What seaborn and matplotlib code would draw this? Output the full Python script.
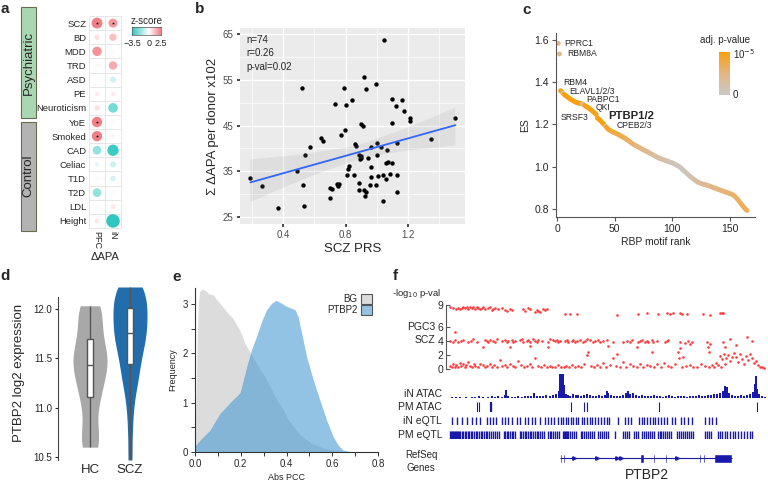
# -*- coding: utf-8 -*-
import numpy as np
import pandas as pd
import matplotlib
matplotlib.use("Agg")
from matplotlib import pyplot as plt
from matplotlib.colors import LinearSegmentedColormap, Normalize
from matplotlib.patches import Patch, Rectangle
import seaborn as sns

'''a. trait enrichment z-scores'''
traits = ["SCZ", "BD", "MDD", "TRD", "ASD", "PE", "Neuroticism", "YoE", "Smoked",
          "CAD", "Celiac", "T1D", "T2D", "LDL", "Height"]
z_pfc = [2.2, 0.45, 1.6, 0.15, 0.0, 0.3, 0.45, 2.0, 2.0, -1.35, -0.3, 0.1, -1.35, -0.1, 0.35]
z_in = [1.5, 0.95, 0.1, 1.25, -0.6, 0.3, -1.7, 0.1, 0.2, -2.4, -0.6, -0.5, 0.1, 0.35, -3.5]
sig_pfc = ["SCZ", "YoE", "Smoked"]
sig_in = ["SCZ"]

'''b. SCZ PRS vs sum dAPA'''
prs = [0.187, 0.263, 0.366, 0.518, 0.537, 0.488, 0.527, 0.535, 0.574, 0.645,
       0.658, 0.699, 0.703, 0.710, 0.735, 0.789, 0.768, 0.798, 0.806, 0.841,
       0.745, 0.752, 0.758, 0.811, 0.815, 0.824, 0.854, 0.864, 0.870, 0.886,
       0.892, 0.897, 0.902, 0.886, 0.890, 0.901, 0.915, 0.918, 0.935, 0.920,
       0.928, 0.932, 0.955, 0.961, 0.963, 0.966, 0.994, 0.994, 1.000, 1.005,
       1.010, 1.047, 1.070, 1.097, 1.166, 1.123, 1.097, 1.176, 1.215, 1.215,
       1.129, 1.348, 1.508, 1.060, 1.075, 1.100, 1.040, 1.085, 1.129, 1.062,
       1.129, 1.043, 1.030, 0.945]
apa = [33.6, 31.8, 27.0, 53.3, 38.6, 35.1, 32.0, 27.4, 40.4, 42.3,
       41.7, 31.3, 29.2, 31.2, 49.7, 53.3, 42.9, 44.0, 49.4, 50.6,
       32.3, 31.8, 32.2, 34.2, 35.5, 36.2, 34.2, 41.0, 40.5, 38.5,
       37.6, 38.3, 37.9, 32.4, 30.9, 45.3, 45.0, 55.7, 52.9, 31.0,
       29.6, 30.5, 32.0, 33.8, 36.0, 40.4, 54.1, 32.0, 41.1, 38.5,
       34.0, 63.7, 39.6, 50.8, 50.6, 49.3, 45.5, 48.2, 46.6, 46.1,
       41.2, 42.0, 46.6, 36.8, 37.0, 36.8, 34.2, 34.5, 34.2, 33.3,
       30.5, 28.5, 40.4, 38.0]

'''c. RBP motif enrichment, ranked'''
es = [1.584, 1.534, 1.360, 1.355, 1.348, 1.342, 1.338, 1.334, 1.330, 1.326, 1.322, 1.318, 1.315, 1.312, 1.309,
      1.306, 1.304, 1.302, 1.301, 1.300, 1.299, 1.297, 1.293, 1.290, 1.286, 1.283, 1.279, 1.275, 1.271, 1.267,
      1.262, 1.257, 1.252, 1.247, 1.230, 1.226, 1.222, 1.216, 1.210, 1.204, 1.198, 1.192, 1.186, 1.180, 1.175,
      1.172, 1.169, 1.166, 1.163, 1.161, 1.158, 1.156, 1.153, 1.150, 1.147, 1.144, 1.141, 1.138, 1.135, 1.131,
      1.127, 1.123, 1.119, 1.115, 1.111, 1.107, 1.104, 1.101, 1.098, 1.095, 1.092, 1.089, 1.086, 1.083, 1.080,
      1.077, 1.074, 1.072, 1.069, 1.066, 1.063, 1.060, 1.057, 1.054, 1.051, 1.048, 1.045, 1.042, 1.040, 1.038,
      1.036, 1.034, 1.032, 1.030, 1.028, 1.026, 1.024, 1.022, 1.020, 1.018, 1.016, 1.013, 1.010, 1.007, 1.004,
      1.001, 0.997, 0.992, 0.987, 0.982, 0.977, 0.972, 0.967, 0.962, 0.957, 0.952, 0.948, 0.944, 0.940, 0.936,
      0.932, 0.928, 0.925, 0.923, 0.921, 0.919, 0.917, 0.916, 0.915, 0.913, 0.911, 0.909, 0.907, 0.905, 0.903,
      0.901, 0.899, 0.897, 0.895, 0.893, 0.891, 0.889, 0.887, 0.885, 0.883, 0.881, 0.879, 0.877, 0.875, 0.873,
      0.871, 0.869, 0.866, 0.862, 0.857, 0.851, 0.845, 0.838, 0.831, 0.824, 0.817, 0.810, 0.804, 0.798, 0.793]
# scaled -log10 adj. p-value (0 = n.s., 1 = 1e-5)
padj_score = [0.5, 0.5, 1, 1, 0.2, 1, 1, 1, 1, 1, 1, 1, 1, 1, 1,
              1, 1, 1, 1, 1, 1, 0.3, 0.3, 1, 1, 1, 1, 1, 1, 1,
              1, 1, 1, 0.9, 1, 1, 1, 1, 1, 1, 1, 0.3, 0.95, 0.9, 0.9,
              0.85, 0.85, 0.8, 0.8, 0.8, 0.75, 0.75, 0.75, 0.8, 0.75, 0.75, 0.7, 0.75, 0.7, 0.7,
              0.65, 0.65, 0.6, 0.65, 0.6, 0.6, 0.55, 0.55, 0.5, 0.55, 0.5, 0.5, 0.45, 0.5, 0.45,
              0.45, 0.4, 0.45, 0.4, 0.4, 0.35, 0.4, 0.35, 0.35, 0.3, 0.3, 0.35, 0.3, 0.25, 0.3,
              0.25, 0.2, 0.25, 0.2, 0.2, 0.15, 0.2, 0.15, 0.15, 0.1, 0.15, 0.1, 0.1, 0.1, 0.1,
              0.05, 0.1, 0.05, 0.1, 0.05, 0.1, 0.1, 0.15, 0.1, 0.15, 0.15, 0.2, 0.15, 0.2, 0.25,
              0.25, 0.3, 0.3, 0.35, 0.3, 0.35, 0.4, 0.35, 0.4, 0.4, 0.45, 0.4, 0.45, 0.45, 0.45,
              0.5, 0.45, 0.5, 0.5, 0.5, 0.5, 0.55, 0.5, 0.55, 0.55, 0.5, 0.55, 0.55, 0.6, 0.55,
              0.6, 0.55, 0.6, 0.6, 0.6, 0.6, 0.65, 0.6, 0.65, 0.65, 0.65, 0.7, 0.65, 0.7, 0.7]
rbp_names = ["PPRC1", "RBM8A", "RBM4", "ELAVL1/2/3", "PABPC1", "QKI", "PTBP1/2", "SRSF3", "CPEB2/3"]
rbp_lab_x = [6, 8.4, 5, 10.7, 25.7, 33.8, 44.5, 3.2, 51.8]
rbp_lab_y = [1.581, 1.534, 1.401, 1.356, 1.318, 1.28, 1.241, 1.233, 1.193]

'''d. PTBP2 expression'''
hc_expr = [10.60, 10.62, 10.66, 10.75, 10.92, 11.05, 11.12, 11.18, 11.25, 11.32, 11.38, 11.42,
           11.45, 11.48, 11.52, 11.58, 11.63, 11.68, 11.75, 11.85, 11.95, 11.99, 12.01, 12.03]
scz_expr = [10.47, 10.80, 11.05, 11.20, 11.30, 11.36, 11.42, 11.50, 11.58, 11.64,
            11.68, 11.70, 11.72, 11.78, 11.84, 11.88, 11.92, 11.95, 11.98, 12.02,
            12.08, 12.14, 12.18, 12.20, 12.21, 12.22]

'''e. |PCC| density'''
bg_x = [0.0, 0.005, 0.01, 0.015, 0.02, 0.033, 0.05, 0.062, 0.08, 0.092, 0.12, 0.146, 0.167, 0.197, 0.218,
        0.247, 0.284, 0.306, 0.335, 0.357, 0.386, 0.408, 0.437, 0.459, 0.509, 0.56, 0.604, 0.65, 0.7]
bg_y = [0.3, 1.2, 2.4, 3.0, 3.25, 3.3, 3.25, 3.2, 3.18, 3.1, 2.95, 2.8, 2.7, 2.45, 2.2,
        1.97, 1.67, 1.53, 1.26, 1.06, 0.86, 0.65, 0.48, 0.35, 0.18, 0.08, 0.04, 0.01, 0.0]
ptbp_x = [0.0, 0.03, 0.065, 0.109, 0.153, 0.197, 0.226, 0.247, 0.269, 0.291, 0.313, 0.335, 0.354, 0.371,
          0.4, 0.437, 0.451, 0.466, 0.488, 0.517, 0.546, 0.575, 0.604, 0.626, 0.648, 0.677, 0.7]
ptbp_y = [0.12, 0.28, 0.44, 0.78, 1.0, 1.2, 1.73, 2.07, 2.34, 2.64, 2.88, 3.01, 3.07, 3.03,
          2.95, 2.88, 2.74, 2.41, 1.93, 1.46, 1.05, 0.65, 0.31, 0.14, 0.04, 0.01, 0.0]

'''f. PTBP2 locus (positions in kb)'''
top_x = [0, 3, 6, 8, 10, 12, 13, 15, 17, 18, 20, 22, 23, 25, 27, 28, 30, 32, 33, 35,
         38, 40, 42, 43, 45, 48, 52, 55, 57, 60, 62, 73, 75, 78, 80, 85, 87, 88, 90, 93,
         95, 97, 115, 120, 127, 167, 188, 197, 208, 217, 220, 223, 230, 232, 237, 253, 260, 270, 272, 273]
top_y = [8.7, 8.6, 8.5, 8.6, 8.4, 8.6, 8.7, 8.6, 8.7, 8.5, 8.7, 8.6, 8.7, 8.5, 8.7, 8.6, 8.4, 8.6, 8.7, 8.5,
         8.6, 8.7, 8.3, 8.5, 8.6, 8.4, 8.6, 8.3, 8.2, 8.5, 8.3, 8.4, 8.2, 8.6, 8.5, 8.1, 8.3, 8.2, 8.0, 8.5,
         8.3, 8.4, 7.8, 7.8, 7.8, 7.6, 7.8, 7.9, 7.7, 7.9, 7.8, 7.9, 7.9, 7.8, 7.7, 7.8, 7.6, 7.9, 7.9, 7.9]
mid_x = [0, 3, 5, 8, 11, 13, 18, 21, 23, 27,
         35, 37, 38, 40, 43, 45, 47, 52, 55, 57,
         58, 62, 63, 65, 70, 72, 73, 77, 78, 80,
         83, 85, 87, 88, 92, 98, 100, 103, 105, 107,
         108, 110, 115, 117, 118, 122, 123, 125, 127, 130,
         133, 135, 137, 140, 143, 145, 148, 150, 153, 157,
         163, 173, 177, 180, 182, 188, 190, 192, 195, 197,
         198, 202, 203, 207, 215, 217, 218, 230, 235, 238,
         240, 242, 257, 260, 273, 280, 297, 302]
mid_y = [4.0, 3.9, 4.1, 3.8, 4.0, 4.1, 3.9, 4.0, 4.2, 3.9,
         4.1, 4.0, 3.8, 4.1, 4.0, 3.9, 4.2, 4.0, 4.1, 3.9,
         4.0, 4.1, 3.8, 4.0, 4.1, 4.2, 3.9, 4.0, 4.1, 3.9,
         4.2, 4.0, 3.9, 4.1, 4.0, 3.9, 4.2, 4.1, 4.0, 4.1,
         3.9, 4.0, 4.0, 4.1, 3.9, 4.0, 4.1, 3.8, 4.0, 4.1,
         3.9, 4.0, 4.2, 4.1, 3.9, 4.0, 4.1, 3.8, 4.0, 4.1,
         3.9, 3.8, 4.0, 3.9, 4.1, 3.8, 4.0, 4.1, 3.9, 4.0,
         3.8, 4.1, 3.9, 4.0, 3.8, 4.0, 4.1, 3.9, 3.7, 4.0,
         3.6, 3.8, 3.9, 3.6, 3.8, 4.3, 4.5, 4.0]
low_x = [5, 33, 60, 80, 98, 138, 158, 167, 187, 202, 228, 230, 233, 258, 259, 275, 286]
low_y = [5.2, 3.2, 3.1, 3.3, 3.2, 2.5, 3.3, 2.1, 3.2, 2.4, 2.5, 3.0, 1.8, 3.2, 2.5, 3.1, 3.4]
bot_x = [0, 2, 3, 5, 6, 8, 10, 11, 13, 15,
         16, 18, 20, 22, 24, 25, 28, 30, 33, 35,
         37, 40, 42, 44, 47, 50, 52, 55, 57, 60,
         63, 65, 68, 71, 74, 77, 80, 82, 85, 88,
         91, 94, 97, 100, 102, 105, 108, 111, 114, 116,
         119, 122, 125, 128, 131, 134, 137, 141, 144, 147,
         150, 153, 156, 160, 163, 166, 170, 173, 176, 180,
         183, 187, 190, 193, 197, 200, 204, 207, 211, 214,
         218, 221, 225, 229, 232, 236, 240, 243, 247, 251,
         255, 259, 262]
bot_y = [0.5, 0.3, 0.8, 0.4, 0.6, 0.3, 0.9, 0.5, 0.7, 0.4,
         0.6, 1.1, 0.5, 0.3, 0.7, 0.5, 0.4, 0.8, 0.6, 0.3,
         0.5, 0.7, 0.4, 0.6, 0.3, 1.3, 0.5, 0.6, 0.4, 0.8,
         0.5, 0.3, 1.2, 0.6, 0.4, 0.5, 0.7, 0.3, 1.6, 0.5,
         0.4, 0.6, 0.3, 0.5, 0.4, 0.3, 0.6, 0.4, 0.3, 0.5,
         0.4, 0.6, 0.3, 0.5, 0.4, 0.7, 2.0, 0.5, 0.3, 0.6,
         0.4, 0.9, 0.3, 0.6, 1.6, 0.5, 0.4, 1.0, 0.3, 0.7,
         0.5, 0.4, 0.8, 0.3, 0.6, 0.5, 0.4, 0.7, 0.3, 0.9,
         0.5, 0.4, 0.7, 1.6, 0.3, 0.5, 0.6, 0.4, 0.3, 0.8,
         0.5, 0.4, 0.6]
tail_x = [264, 266, 268, 270, 271, 272, 274, 275, 276, 278, 280, 282, 284, 286,
          288, 290, 292, 294, 296, 298, 300, 302, 304, 306, 308, 310, 312, 314]
tail_y = [0.4, 0.9, 0.6, 1.9, 0.3, 1.5, 2.2, 0.7, 1.6, 2.0, 1.2, 1.8, 2.3, 1.7,
          1.0, 2.1, 1.5, 0.8, 1.9, 1.3, 2.1, 1.6, 0.9, 1.2, 0.6, 0.4, 0.3, 0.2]

atac_x = [2, 6, 10, 16, 22, 25, 29, 33, 38, 42,
          45, 48, 52, 55, 56, 58, 62, 65, 68, 72,
          75, 78, 81, 84, 87, 90, 93, 96, 100, 103,
          106, 109, 110, 111, 112, 113, 114, 116, 118, 120,
          123, 126, 128, 131, 134, 137, 140, 143, 146, 149,
          152, 155, 157, 158, 161, 164, 167, 170, 173, 176,
          178, 180, 183, 186, 189, 192, 195, 198, 201, 204,
          207, 210, 213, 216, 219, 222, 225, 228, 231, 234,
          237, 240, 243, 246, 249, 252, 255, 258, 261, 264,
          267, 270, 273, 275, 277, 279, 282, 285, 288, 291,
          294, 297, 300, 303, 305, 306, 307, 309, 312, 315]
atac_h = [0.04, 0.05, 0.03, 0.06, 0.04, 0.05, 0.07, 0.04, 0.05, 0.08,
          0.05, 0.10, 0.06, 0.12, 0.32, 0.10, 0.06, 0.05, 0.08, 0.06,
          0.09, 0.07, 0.10, 0.22, 0.08, 0.10, 0.07, 0.12, 0.09, 0.14,
          0.16, 0.30, 1.00, 1.00, 1.00, 1.00, 0.55, 0.18, 0.14, 0.10,
          0.16, 0.12, 0.14, 0.10, 0.12, 0.18, 0.12, 0.08, 0.10, 0.12,
          0.09, 0.14, 0.28, 0.20, 0.12, 0.10, 0.09, 0.08, 0.12, 0.22,
          0.30, 0.18, 0.22, 0.12, 0.10, 0.14, 0.08, 0.10, 0.09, 0.12,
          0.08, 0.10, 0.06, 0.08, 0.12, 0.07, 0.06, 0.08, 0.10, 0.07,
          0.06, 0.08, 0.07, 0.10, 0.12, 0.08, 0.09, 0.12, 0.14, 0.18,
          0.16, 0.20, 0.30, 0.50, 0.45, 0.20, 0.14, 0.10, 0.08, 0.12,
          0.10, 0.14, 0.18, 0.25, 0.60, 0.95, 0.40, 0.15, 0.10, 0.06]
pm_atac = [27, 29, 41, 121, 134, 137, 209, 307]
in_eqtl = [2, 7, 12, 17, 22, 26, 30, 37, 40, 43, 46, 52, 55, 58, 62, 67, 70, 75, 78, 82,
           85, 90, 95, 98, 101, 104, 108, 111, 113, 116, 118, 121, 123, 126, 128, 132, 134, 137, 140, 142,
           145, 148, 151, 154, 157, 159, 168, 175, 178, 181, 189, 192, 194, 197, 200, 203, 205, 208, 211, 214,
           217, 222, 225, 231, 234, 238, 242, 255, 259, 262, 266]
pm_eqtl = [0, 1, 2, 3, 4, 5, 6, 7, 8, 9, 10,
           12, 13, 15, 16, 18, 19, 21, 22, 24, 26, 27, 29, 31, 32, 34, 36, 37, 39, 41, 43, 45, 47, 49,
           54, 55, 57, 58, 60, 62, 63, 65,
           70, 71, 73, 75, 76, 78, 80, 81, 83, 85, 87, 88, 90, 92, 94,
           98, 100, 101, 103, 105, 107, 109,
           113, 114, 115, 116, 117, 118, 120, 122, 124, 126,
           131, 132, 134, 136, 138, 140, 142, 144,
           148, 150, 152, 154, 156, 158, 165, 173, 175, 177, 179, 184, 186, 188,
           192, 194, 196, 198, 200, 202, 204, 208, 210, 211, 213, 215, 217, 219, 221,
           227, 229, 231, 233, 235, 237, 239, 241, 243, 255, 257, 259, 261,
           268, 270, 272, 275, 277, 280, 283, 285, 288, 291, 294, 297, 300, 302]
gene_start, gene_end = 110, 281.7
exons = [(110, 2), (113, 2), (157.7, 1.6), (160.7, 1.6), (190, 4), (203.3, 2),
         (215, 2.3), (249.3, 1.7), (252.7, 2), (264.3, 17.4)]
strand_marks = [124, 147, 167, 171, 227]


sns.set_theme(style="white")
plt.rcParams["font.family"] = ["Liberation Sans", "DejaVu Sans"]
plt.rcParams["axes.unicode_minus"] = True

fig = plt.figure(figsize=(7.68, 4.83), dpi=100)
W, H = 768, 483


def add_ax(l, t, r, b):
    return fig.add_axes([l / W, 1 - b / H, (r - l) / W, (b - t) / H])


def ftext(x, y, s, **kw):
    fig.text(x / W, 1 - y / H, s, **kw)


for lab, x, y in [("a", 5, 9), ("b", 200, 9), ("c", 527, 10), ("d", 5, 276), ("e", 177, 277), ("f", 395, 276)]:
    ftext(x, y, lab, fontsize=11, fontweight="bold", ha="center", va="center")

# ---------------- a ----------------
cmap_z = LinearSegmentedColormap.from_list("z", [(0, "#2ec8c0"), (3.5 / 6, "#ffffff"), (1, "#f07f86")])
norm_z = Normalize(-3.5, 2.5)
ax_a = add_ax(89, 16, 121, 228)
df_a = pd.DataFrame({"col": [0] * len(traits) + [1] * len(traits),
                     "row": list(range(len(traits))) * 2,
                     "z": z_pfc + z_in})
df_a["absz"] = df_a["z"].abs()
sns.scatterplot(data=df_a, x="col", y="row", hue="z", size="absz", palette=cmap_z, hue_norm=(-2.6, 1.9),
                sizes=(4, 95), size_norm=(0, 3.5), linewidth=0, legend=False, ax=ax_a, zorder=3)
sx = [0] * len(sig_pfc) + [1] * len(sig_in)
sy = [traits.index(t) for t in sig_pfc + sig_in]
ax_a.scatter(sx, sy, s=5, marker="*", color="black", linewidths=0, zorder=4)
ax_a.set_xlim(-0.5, 1.5)
ax_a.set_ylim(len(traits) - 0.5, -0.5)
ax_a.set_xticks([0, 1])
ax_a.set_xticklabels(["PFC", "iN"], rotation=270, fontsize=6.5)
ax_a.set_yticks(range(len(traits)))
ax_a.set_yticklabels(traits, fontsize=6.8)
ax_a.set_xticks([0.5], minor=True)
ax_a.set_yticks(np.arange(0.5, len(traits) - 0.5, 1), minor=True)
ax_a.grid(False)
ax_a.grid(which="minor", color="#e6e6e6", lw=0.7)
ax_a.tick_params(which="both", length=0, pad=2)
for s in ax_a.spines.values():
    s.set_color("#e6e6e6")
    s.set_linewidth(0.7)
ax_a.set_xlabel("ΔAPA", fontsize=8, labelpad=2)
ax_a.set_ylabel("")

fig.add_artist(Rectangle((21 / W, 1 - 118 / H), 15 / W, 111 / H, transform=fig.transFigure,
                         facecolor="#a9d7b2", edgecolor="#6b6b52", lw=0.8))
fig.add_artist(Rectangle((21 / W, 1 - 231 / H), 15 / W, 109 / H, transform=fig.transFigure,
                         facecolor="#b3b3b3", edgecolor="#6b6b52", lw=0.8))
ftext(28.5, 62.5, "Psychiatric", rotation=90, fontsize=9.5, ha="center", va="center")
ftext(28.5, 176, "Control", rotation=90, fontsize=9.5, ha="center", va="center")

cax_a = add_ax(132, 27, 161, 35)
cax_a.imshow(np.linspace(-3.5, 2.5, 200)[None, :], extent=(-3.5, 2.5, 0, 1), aspect="auto",
             cmap=cmap_z, norm=norm_z)
cax_a.set_xticks([-3.5, 0, 2.5])
cax_a.set_xticklabels(["−3.5", "0", "2.5"], fontsize=6.5)
cax_a.set_yticks([])
cax_a.tick_params(axis="x", length=2, pad=1, width=0.5)
for s in cax_a.spines.values():
    s.set_linewidth(0.5)
    s.set_color("#555555")
cax_a.set_title("z-score", fontsize=7, pad=2)

# ---------------- b ----------------
ax_b = add_ax(240, 28, 465, 224)
ax_b.set_facecolor("#EBEBEB")
sns.regplot(x=prs, y=apa, ax=ax_b, ci=95, n_boot=1000, seed=3, color="#3366FF",
            scatter_kws=dict(s=10, color="black", linewidths=0, alpha=1),
            line_kws=dict(color="#3366FF", lw=1.3))
band = ax_b.collections[-1]
band.set_facecolor((0.6, 0.6, 0.6, 0.45))
band.set_edgecolor("none")
ax_b.set_xlim(0.12, 1.57)
ax_b.set_ylim(23.5, 66.3)
ax_b.set_xticks([0.4, 0.8, 1.2])
ax_b.set_xticks([0.2, 0.6, 1.0, 1.4], minor=True)
ax_b.set_yticks([25, 35, 45, 55, 65])
ax_b.set_yticks([30, 40, 50, 60], minor=True)
ax_b.set_axisbelow(True)
ax_b.grid(which="major", color="white", lw=1.0)
ax_b.grid(which="minor", color="white", lw=0.5)
for s in ax_b.spines.values():
    s.set_visible(False)
ax_b.tick_params(which="major", length=2.5, color="#333333", labelsize=7, labelcolor="#4d4d4d", pad=2,
                 bottom=True, left=True)
ax_b.tick_params(which="minor", length=0)
ax_b.set_xlabel("SCZ PRS", fontsize=9.5, labelpad=2)
ax_b.set_ylabel("Σ ΔAPA per donor x102", fontsize=9.5, labelpad=3)
ax_b.text(0.03, 0.965, "n=74\nr=0.26\np-val=0.02", transform=ax_b.transAxes, fontsize=7,
          va="top", ha="left", linespacing=1.45)

# ---------------- c ----------------
cmap_p = LinearSegmentedColormap.from_list("p", ["#c9c9c9", "#e4b684", "#f8a010"])
ax_c = add_ax(556, 33, 755, 217)
ranks = list(range(1, len(es) + 1))
sns.scatterplot(x=ranks, y=es, hue=padj_score, palette=cmap_p, hue_norm=(0, 1), s=12,
                linewidth=0, legend=False, ax=ax_c)
ax_c.set_xlim(-1, 172)
ax_c.set_ylim(0.762, 1.633)
ax_c.set_xticks([0, 50, 100, 150])
ax_c.set_yticks([0.8, 1.0, 1.2, 1.4, 1.6])
ax_c.set_yticklabels(["0.8", "1.0", "1.2", "1.4", "1.6"])
for side in ["top", "right"]:
    ax_c.spines[side].set_visible(False)
for side in ["left", "bottom"]:
    ax_c.spines[side].set_color("#555555")
    ax_c.spines[side].set_linewidth(0.8)
ax_c.tick_params(length=3, width=0.8, color="#555555", labelsize=7.5, pad=2, bottom=True, left=True)
ax_c.set_xlabel("RBP motif rank", fontsize=7.5, labelpad=2)
ax_c.set_ylabel("ES", fontsize=7.5, labelpad=3)
for name, x, y in zip(rbp_names, rbp_lab_x, rbp_lab_y):
    if name == "PTBP1/2":
        ax_c.text(x, y, name, fontsize=8.2, fontweight="bold", va="center", ha="left")
    else:
        ax_c.text(x, y, name, fontsize=6.2, va="center", ha="left")
cax_c = add_ax(719, 52, 730, 95)
cax_c.imshow(np.linspace(0, 1, 100)[:, None], extent=(0, 1, 0, 1), origin="lower", aspect="auto",
             cmap=cmap_p, vmin=0, vmax=1)
cax_c.set_xticks([])
cax_c.yaxis.tick_right()
cax_c.set_yticks([0.02, 0.98])
cax_c.set_yticklabels(["0", "10$^{-5}$"], fontsize=7)
cax_c.tick_params(axis="y", length=0, pad=2)
for s in cax_c.spines.values():
    s.set_visible(False)
ftext(725, 40, "adj. p-value", fontsize=7, ha="center", va="center")

# ---------------- d ----------------
ax_d = add_ax(58, 286, 160, 460)
df_d = pd.DataFrame({"group": ["HC"] * len(hc_expr) + ["SCZ"] * len(scz_expr),
                     "expr": hc_expr + scz_expr})
sns.violinplot(data=df_d, x="group", y="expr", hue="group", order=["HC", "SCZ"],
               palette={"HC": "#a8a8a8", "SCZ": "#0b6fc2"}, inner=None, cut=0,
               density_norm="width", width=0.85, linewidth=0, bw_adjust=0.7, legend=False, ax=ax_d)
sns.boxplot(data=df_d, x="group", y="expr", order=["HC", "SCZ"], color="white", linecolor="#555555",
            linewidth=1, width=0.13, whis=(0, 100), showcaps=False, showfliers=False, ax=ax_d)
ax_d.set_xlim(-0.8, 1.75)
ax_d.set_ylim(10.47, 12.23)
ax_d.set_yticks([10.5, 11.0, 11.5, 12.0])
ax_d.set_yticklabels(["10.5", "11.0", "11.5", "12.0"])
for side in ["top", "right", "bottom"]:
    ax_d.spines[side].set_visible(False)
ax_d.spines["left"].set_bounds(10.47, 12.12)
ax_d.spines["left"].set_color("#444444")
ax_d.spines["left"].set_linewidth(0.8)
ax_d.tick_params(axis="y", length=2, width=0.8, labelsize=7, pad=2, left=True)
ax_d.tick_params(axis="x", length=0, labelsize=9.5, pad=3)
ax_d.set_xlabel("")
ax_d.set_ylabel("PTBP2 log2 expression", fontsize=9.5, labelpad=6)

# ---------------- e ----------------
ax_e = add_ax(195, 288, 378, 452)
ax_e.fill_between(bg_x, bg_y, color="#dcdcdc", lw=0)
ax_e.fill_between(ptbp_x, ptbp_y, color="#4a9bd3", alpha=0.6, lw=0)
ax_e.set_xlim(0, 0.8)
ax_e.set_ylim(0, 3.32)
ax_e.set_xticks([0.0, 0.2, 0.4, 0.6, 0.8])
ax_e.set_xticks([0.1, 0.3, 0.5, 0.7], minor=True)
ax_e.set_yticks([0, 1, 2, 3])
ax_e.set_yticks([0.5, 1.5, 2.5], minor=True)
for side in ["top", "right"]:
    ax_e.spines[side].set_visible(False)
for side in ["left", "bottom"]:
    ax_e.spines[side].set_color("#333333")
    ax_e.spines[side].set_linewidth(0.8)
ax_e.tick_params(which="both", length=3, width=0.7, color="#333333", labelsize=7, pad=2, bottom=True, left=True)
ax_e.set_xlabel("Abs PCC", fontsize=6.5, labelpad=3)
ax_e.set_ylabel("Frequency", fontsize=6.5, labelpad=4)
ax_e.legend(handles=[Patch(facecolor="#dcdcdc", edgecolor="#555555", lw=0.8, label="BG"),
                     Patch(facecolor="#92c4e6", edgecolor="#555555", lw=0.8, label="PTBP2")],
            loc="upper right", bbox_to_anchor=(1.0, 1.0), markerfirst=False, frameon=False, fontsize=7,
            handlelength=1.2, handleheight=1.2, handletextpad=0.3, labelspacing=0.1, borderaxespad=0.2)

# ---------------- f ----------------
navy = "#1a1aaa"
red = "#ff3b3b"
xl = (-4, 318)
ax_f = add_ax(446, 303, 768, 371.5)
for xs, ys in [(top_x, top_y), (mid_x, mid_y), (low_x, low_y), (bot_x, bot_y), (tail_x, tail_y)]:
    ax_f.scatter(xs, ys, s=3.5, color=red, linewidths=0)
ax_f.set_xlim(*xl)
ax_f.set_ylim(-0.3, 9.3)
ax_f.set_yticks([0, 2, 4, 6, 9])
ax_f.set_xticks([])
for side in ["top", "right", "bottom"]:
    ax_f.spines[side].set_visible(False)
ax_f.spines["left"].set_bounds(0, 9)
ax_f.spines["left"].set_color("#555555")
ax_f.spines["left"].set_linewidth(0.8)
ax_f.tick_params(axis="y", direction="in", length=3, width=0.8, color="#555555", labelsize=7.5, pad=2, left=True)
ax_f.set_facecolor("none")
ftext(441, 294, "-log$_{10}$ p-val", fontsize=6.8, ha="right", va="center")
ftext(435, 327, "PGC3", fontsize=7.5, ha="right", va="center")
ftext(435, 340, "SCZ", fontsize=7.5, ha="right", va="center")

ax_atac = add_ax(446, 374, 768, 398)
ax_atac.bar(atac_x, atac_h, width=1.4, color=navy, lw=0)
ax_atac.set_ylim(0, 1.02)

ax_pma = add_ax(446, 402, 768, 412)
ax_pma.vlines(pm_atac, 0, 1, color=navy, lw=0.8)
ax_pma.vlines([41], 0, 1, color=navy, lw=1.6)

ax_ine = add_ax(446, 416.5, 768, 424.5)
ax_ine.vlines(in_eqtl, 0, 1, color=navy, lw=1.0)

ax_pme = add_ax(446, 430.5, 768, 438.5)
ax_pme.vlines(pm_eqtl, 0, 1, color=navy, lw=1.0)

ax_gene = add_ax(446, 448, 768, 468)
ax_gene.hlines(0, gene_start, gene_end, color=navy, lw=0.8)
ax_gene.broken_barh(exons, (-0.45, 0.9), facecolors=navy)
ax_gene.plot(strand_marks, [0] * len(strand_marks), ls="none", marker=">", ms=2.5, color=navy)
ax_gene.set_ylim(-1, 1)

for a in [ax_atac, ax_pma, ax_ine, ax_pme, ax_gene]:
    a.set_xlim(*xl)
    a.set_xticks([])
    a.set_yticks([])
    a.set_facecolor("none")
    for s in a.spines.values():
        s.set_visible(False)
    if a is not ax_atac and a is not ax_gene:
        a.set_ylim(0, 1)

ftext(442, 394, "iN ATAC", fontsize=7.5, ha="right", va="center")
ftext(442, 407, "PM ATAC", fontsize=7.5, ha="right", va="center")
ftext(442, 421, "iN eQTL", fontsize=7.5, ha="right", va="center")
ftext(442, 435, "PM eQTL", fontsize=7.5, ha="right", va="center")
ftext(421, 461.5, "RefSeq\nGenes", fontsize=7, ha="center", va="center", linespacing=1.3)
ftext(647, 475, "PTBP2", fontsize=10, ha="center", va="center")

fig.savefig("out.png", dpi=100)
